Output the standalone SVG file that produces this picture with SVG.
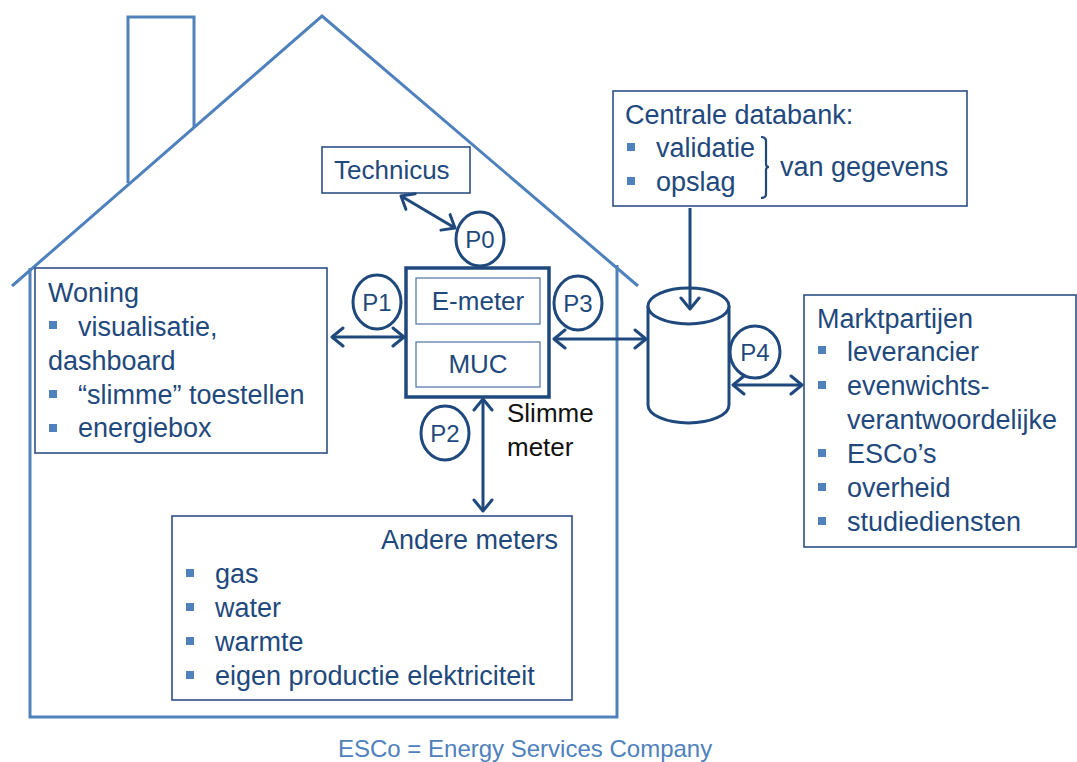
<svg xmlns="http://www.w3.org/2000/svg" width="1077" height="762" viewBox="0 0 1077 762">
  <defs>
    <style>
      .house { fill: none; stroke: #4F81BD; stroke-width: 3; stroke-linejoin: miter; }
      .box { fill: #FFFFFF; stroke: #2C4F85; stroke-width: 1.6; }
      .inner { fill: #FFFFFF; stroke: #4F72A8; stroke-width: 1.2; }
      .meter { fill: #FFFFFF; stroke: #1F497D; stroke-width: 3.5; }
      .port { fill: #FFFFFF; stroke: #1F497D; stroke-width: 3; }
      .link { fill: none; stroke: #1F497D; stroke-width: 3; marker-end: url(#chev); }
      .link2 { fill: none; stroke: #1F497D; stroke-width: 3; marker-start: url(#chev); marker-end: url(#chev); }
      .cyl { fill: #FFFFFF; stroke: #1F497D; stroke-width: 3; }
      text { font-family: "Liberation Sans", Arial, sans-serif; fill: #1F497D; }
      .t27 { font-size: 27px; }
      .t26 { font-size: 26px; }
      .t24 { font-size: 24px; }
      .blk { fill: #111111; }
      .bul { fill: #4F81BD; }
      .foot { font-size: 24px; fill: #4F81BD; }
    </style>
    <marker id="chev" viewBox="-14 -11 16 22" markerWidth="16" markerHeight="22" refX="0" refY="0" markerUnits="userSpaceOnUse" orient="auto-start-reverse">
      <path d="M -11 -9 L 0 0 L -11 9" fill="none" stroke="#1F497D" stroke-width="3" stroke-linecap="round" stroke-linejoin="round"/>
    </marker>
  </defs>

  <!-- house outline -->
  <g id="house">
    <path class="house" d="M 12 286 L 322 16 L 638 286"/>
    <path class="house" d="M 128 183 L 128 17 L 194 17 L 194 127"/>
    <path class="house" d="M 30 268 L 30 717 L 617 717 L 617 265"/>
  </g>

  <g id="technicus">
    <rect class="box" x="322" y="147" width="148" height="46"/>
    <text class="t26" x="334" y="179">Technicus</text>
  </g>

  <g id="p0">
    <ellipse class="port" cx="480" cy="239" rx="24" ry="27"/>
    <text class="t24" x="480" y="248" text-anchor="middle">P0</text>
  </g>

  <g id="woning">
    <rect class="box" x="35" y="268" width="292" height="185"/>
    <text class="t27" x="48" y="302">Woning</text>
    <rect class="bul" x="49" y="321" width="8" height="8"/>
    <text class="t27" x="78" y="336">visualisatie,</text>
    <text class="t27" x="48" y="370">dashboard</text>
    <rect class="bul" x="49" y="390" width="8" height="8"/>
    <text class="t27" x="78" y="404">“slimme” toestellen</text>
    <rect class="bul" x="49" y="424" width="8" height="8"/>
    <text class="t27" x="78" y="437">energiebox</text>
  </g>

  <g id="p1">
    <ellipse class="port" cx="377" cy="302" rx="24" ry="27"/>
    <text class="t24" x="377" y="311" text-anchor="middle">P1</text>
  </g>

  <g id="slimme-meter">
    <rect class="meter" x="406" y="268" width="143" height="129"/>
    <rect class="inner" x="416" y="278" width="124" height="46"/>
    <text class="t26" x="478" y="310" text-anchor="middle">E-meter</text>
    <rect class="inner" x="416" y="342" width="124" height="45"/>
    <text class="t26" x="478" y="373" text-anchor="middle">MUC</text>
    <text class="t26 blk" x="507" y="422">Slimme</text>
    <text class="t26 blk" x="507" y="456">meter</text>
  </g>

  <g id="p3">
    <ellipse class="port" cx="578" cy="303" rx="24" ry="27"/>
    <text class="t24" x="578" y="312" text-anchor="middle">P3</text>
  </g>

  <g id="p2">
    <ellipse class="port" cx="445" cy="433" rx="24" ry="27"/>
    <text class="t24" x="445" y="442" text-anchor="middle">P2</text>
  </g>

  <g id="andere-meters">
    <rect class="box" x="172" y="516" width="400" height="184"/>
    <text class="t27" x="558" y="549" text-anchor="end">Andere meters</text>
    <rect class="bul" x="186" y="569" width="8" height="8"/>
    <text class="t27" x="215" y="583">gas</text>
    <rect class="bul" x="186" y="603" width="8" height="8"/>
    <text class="t27" x="215" y="617">water</text>
    <rect class="bul" x="186" y="637" width="8" height="8"/>
    <text class="t27" x="215" y="651">warmte</text>
    <rect class="bul" x="186" y="671" width="8" height="8"/>
    <text class="t27" x="215" y="685">eigen productie elektriciteit</text>
  </g>

  <g id="centrale-databank">
    <rect class="box" x="613" y="91" width="354" height="115"/>
    <text class="t27" x="625" y="124">Centrale databank:</text>
    <rect class="bul" x="627" y="143" width="8" height="8"/>
    <text class="t27" x="656" y="157">validatie</text>
    <rect class="bul" x="627" y="177" width="8" height="8"/>
    <text class="t27" x="656" y="191">opslag</text>
    <path d="M 761 137 Q 766 137 766 141 L 766 164 Q 766 167 769 167 Q 766 167 766 170 L 766 194 Q 766 198 761 198" fill="none" stroke="#1F497D" stroke-width="2.2"/>
    <text class="t27" x="780" y="176">van gegevens</text>
  </g>

  <g id="databank">
    <path class="cyl" d="M 648 306 L 648 405 A 40.5 18 0 0 0 729 405 L 729 306"/>
    <ellipse class="cyl" cx="688.5" cy="306" rx="40.5" ry="18"/>
  </g>

  <g id="p4">
    <ellipse class="port" cx="755" cy="352" rx="25" ry="26"/>
    <text class="t24" x="755" y="361" text-anchor="middle">P4</text>
  </g>

  <g id="marktpartijen">
    <rect class="box" x="804" y="295" width="272" height="252"/>
    <text class="t27" x="817" y="328">Marktpartijen</text>
    <rect class="bul" x="818" y="346" width="8" height="8"/>
    <text class="t27" x="847" y="361">leverancier</text>
    <rect class="bul" x="818" y="381" width="8" height="8"/>
    <text class="t27" x="847" y="395">evenwichts-</text>
    <text class="t27" x="847" y="429">verantwoordelijke</text>
    <rect class="bul" x="818" y="449" width="8" height="8"/>
    <text class="t27" x="847" y="463">ESCo’s</text>
    <rect class="bul" x="818" y="483" width="8" height="8"/>
    <text class="t27" x="847" y="497">overheid</text>
    <rect class="bul" x="818" y="517" width="8" height="8"/>
    <text class="t27" x="847" y="531">studiediensten</text>
  </g>

  <!-- connectors, drawn last so the feed arrow shows on top of the cylinder lid -->
  <g id="connectors">
    <line class="link2" x1="401" y1="196" x2="455" y2="228"/>
    <line class="link2" x1="332" y1="337" x2="404" y2="337"/>
    <line class="link2" x1="554" y1="339" x2="646" y2="339"/>
    <line class="link2" x1="483" y1="399" x2="483" y2="511"/>
    <line class="link" x1="690" y1="208" x2="690" y2="309"/>
    <line class="link2" x1="733" y1="385" x2="802" y2="385"/>
  </g>

  <text class="foot" x="338" y="757">ESCo = Energy Services Company</text>
</svg>
